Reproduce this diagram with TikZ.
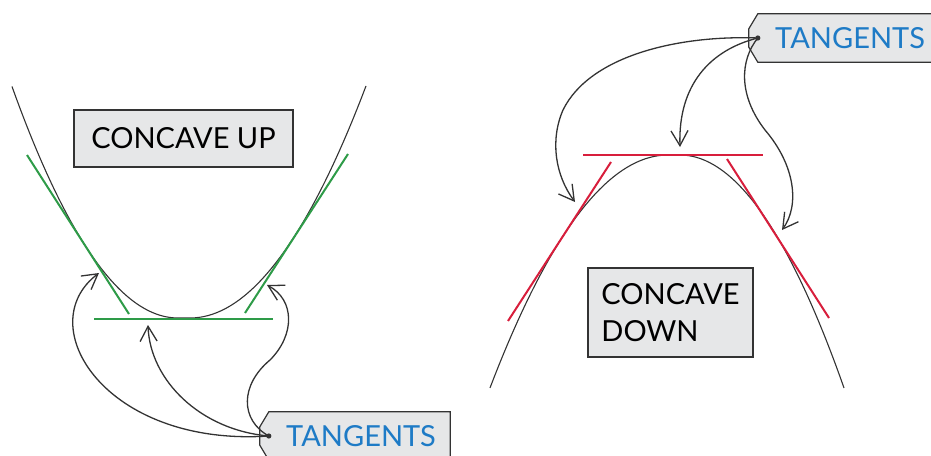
\documentclass[tikz,border=0pt]{standalone}
\usepackage{fontspec}
\setmainfont{Lato}
\usetikzlibrary{arrows.meta,calc,backgrounds}
\definecolor{tangreen}{HTML}{2E9B48}
\definecolor{tanred}{HTML}{D81E3C}
\definecolor{tagblue}{HTML}{1E7BC6}
\definecolor{boxgray}{HTML}{E6E7E8}
\definecolor{inkgray}{HTML}{333333}
\def\drawcurve{\draw[color=inkgray, line width=1.1pt]}
\def\drawgreen{\draw[color=tangreen, line width=2pt]}
\def\drawred{\draw[color=tanred, line width=2pt]}
\def\drawpointer{\draw[color=inkgray, line width=1.3pt, -{Straight Barb[length=15pt,width=17pt]}]}
\def\graynode{\node[draw=inkgray, line width=1.2pt, fill=boxgray, inner sep=0pt, font=\fontsize{29}{37}\selectfont]}
\def\tagnode{\node[minimum width=178pt, minimum height=48pt, inner sep=0pt, text=tagblue, font=\fontsize{29}{34}\selectfont]}
\def\tagoutline#1{\filldraw[draw=inkgray, line width=1.2pt, fill=boxgray]
  ($(#1.north west)+(-3,0)$) -- (#1.north east) -- (#1.south east) -- ($(#1.south west)+(-3,0)$)
  -- ($(#1.south west)+(-12,-15)$) -- ($(#1.north west)+(-12,15)$) -- cycle;}

\begin{document}
\begin{tikzpicture}[x=1pt,y=-1pt]
\useasboundingbox (0,0) rectangle (931,455);
\drawcurve plot[domain=12:178,samples=40] (\x,{318-0.84*((\x-178)/10)*((\x-178)/10)})
  -- plot[domain=190:366,samples=40] (\x,{318-0.749*((\x-190)/10)*((\x-190)/10)});
\drawcurve plot[domain=490:668,samples=40] (\x,{155+0.735*((\x-668)/10)*((\x-668)/10)})
  -- plot[domain=680:844,samples=40] (\x,{155+0.866*((\x-680)/10)*((\x-680)/10)});
\drawgreen (27,155) -- (129,314);
\drawgreen (348,154) -- (245,313);
\drawgreen (94,319) -- (273,319);
\drawred (583,155) -- (763,155);
\drawred (611,162) -- (508,321);
\drawred (727,159) -- (829,318);
\graynode (cup) at (183.5,138.5) [minimum width=219pt, minimum height=57pt] {CONCAVE UP};
\graynode (cdown) at (670.5,312.5) [align=left, minimum width=165pt, minimum height=89pt] {CONCAVE\\DOWN};
\tagnode (tagbot) at (361,436) {TANGENTS};
\tagnode (tagtop) at (850,38) {TANGENTS};
\begin{scope}[on background layer]
\tagoutline{tagbot}
\tagoutline{tagtop}
\end{scope}
\coordinate (dotbot) at ($(tagbot.west)+(-3,0)$);
\coordinate (dottop) at ($(tagtop.west)+(-3,0)$);
\coordinate (tipupleft) at (99,273);
\coordinate (tipupmid) at (148,325);
\coordinate (tipupright) at (267,285);
\coordinate (tipdnleft) at (575,202);
\coordinate (tipdnmid) at (680,147);
\coordinate (tipdnright) at (782,230);
\drawpointer (dotbot) .. controls (105,447) and (30,325) .. (tipupleft);
\drawpointer (dotbot) .. controls (200,430) and (150,380) .. (tipupmid);
\drawpointer (dotbot) .. controls (240,420) and (240,385) .. (270,360) .. controls (295,335) and (295,300) .. (tipupright);
\drawpointer (dottop) .. controls (680,35) and (590,55) .. (563,110) .. controls (550,140) and (555,175) .. (tipdnleft);
\drawpointer (dottop) .. controls (710,50) and (678,85) .. (tipdnmid);
\drawpointer (dottop) .. controls (740,60) and (738,95) .. (765,130) .. controls (795,165) and (800,205) .. (tipdnright);
\fill[inkgray] (dotbot) circle (2.6);
\fill[inkgray] (dottop) circle (2.6);
\end{tikzpicture}
\end{document}
